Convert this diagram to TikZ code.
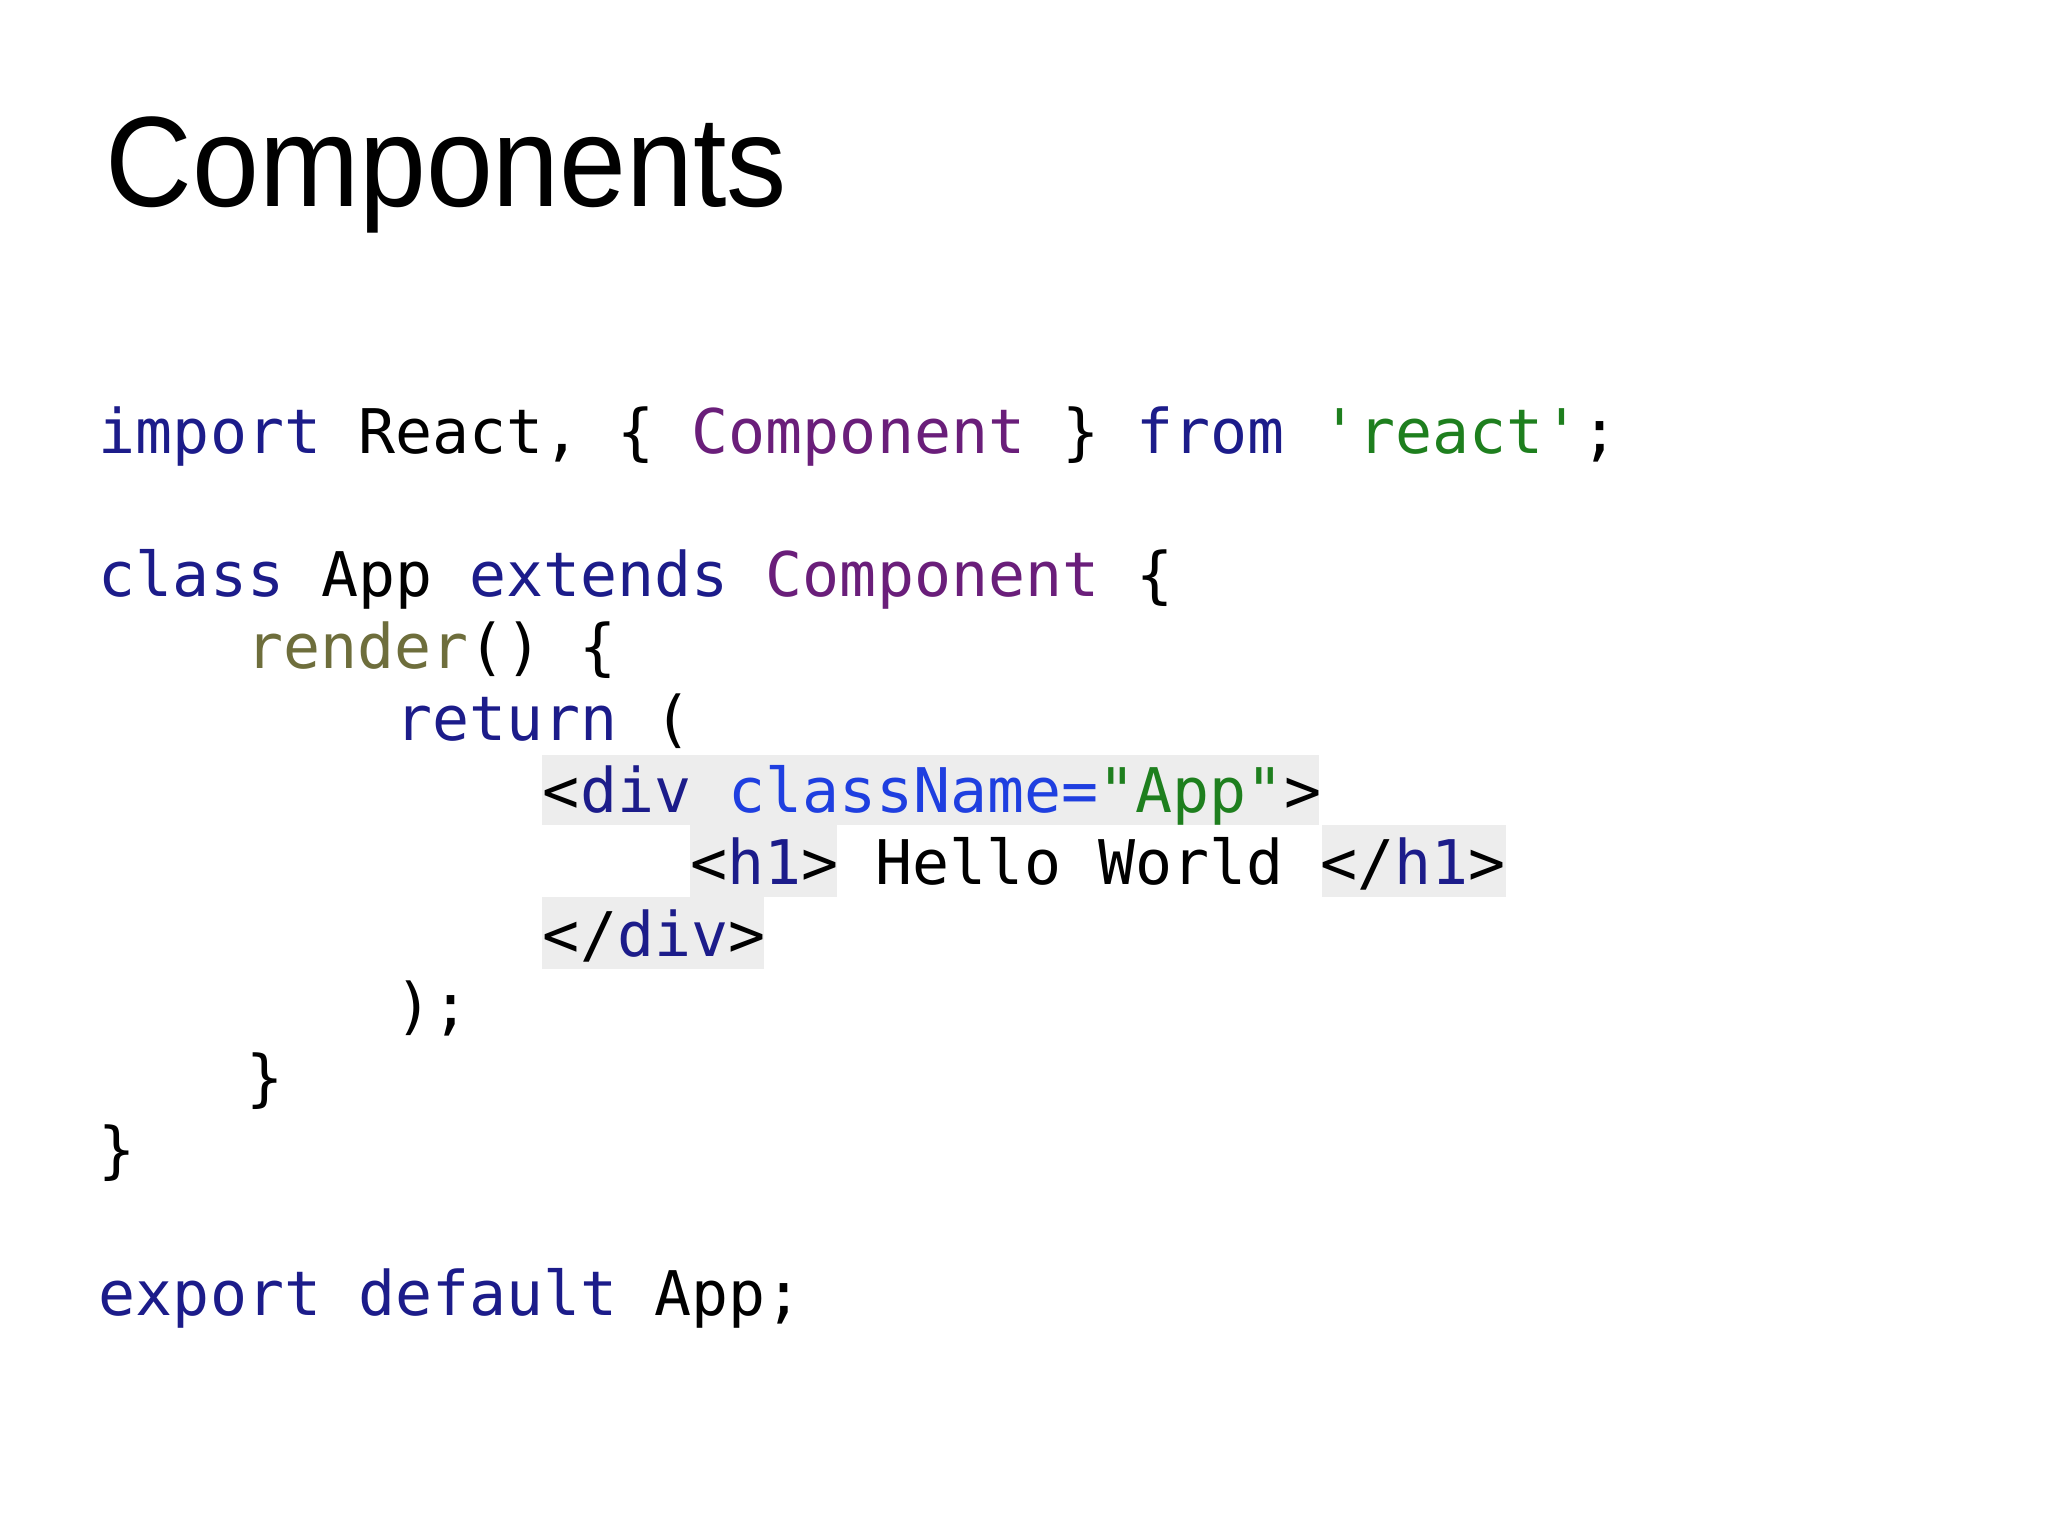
\documentclass[tikz,border=0pt]{standalone}
\usepackage{fontspec}
\usepackage{graphicx}
\setmainfont{Liberation Sans}
\setmonofont{DejaVu Sans Mono}
\definecolor{kw}{HTML}{1C1C8A}
\definecolor{cmp}{HTML}{6A1E7A}
\definecolor{str}{HTML}{1E7F1E}
\definecolor{fn}{HTML}{6E6E3C}
\definecolor{attr}{HTML}{1F3FE0}
\definecolor{hl}{HTML}{EDEDED}
\begin{document}
\begin{tikzpicture}[x=0.01cm,y=-0.01cm,
  code/.style={anchor=base west,inner sep=0pt,font=\fontsize{13.4}{16}\ttfamily},
  hlbox/.style={fill=hl,draw=none}]
\useasboundingbox (0,0) rectangle (1568,1176);
\fill[white] (0,0) rectangle (1568,1176);
\node[anchor=base west,inner sep=0pt,font=\fontsize{28}{34}\selectfont] (title) at (80,158) {\scalebox{0.935}[1]{Components}};
\fill[hlbox] (415,578) rectangle (1010,632);
\fill[hlbox] (528,632) rectangle (641,687);
\fill[hlbox] (1012,632) rectangle (1153,687);
\fill[hlbox] (415,687) rectangle (585,742);
\node[code] (l1) at (75,347) {\textcolor{kw}{import} React, \{ \textcolor{cmp}{Component} \} \textcolor{kw}{from} \textcolor{str}{'react'};};
\node[code] (l2) at (75,457) {\textcolor{kw}{class} App \textcolor{kw}{extends} \textcolor{cmp}{Component} \{};
\node[code] (l3) at (188,512) {\textcolor{fn}{render}() \{};
\node[code] (l4) at (302,567) {\textcolor{kw}{return} (};
\node[code] (l5) at (415,622) {<\textcolor{kw}{div} \textcolor{attr}{className=}\textcolor{str}{"App"}>};
\node[code] (l6) at (528,677) {<\textcolor{kw}{h1}> Hello World </\textcolor{kw}{h1}>};
\node[code] (l7) at (415,732) {</\textcolor{kw}{div}>};
\node[code] (l8) at (302,787) {);};
\node[code] (l9) at (188,842) {\}};
\node[code] (l10) at (75,897) {\}};
\node[code] (l11) at (75,1007) {\textcolor{kw}{export} \textcolor{kw}{default} App;};
\end{tikzpicture}
\end{document}
